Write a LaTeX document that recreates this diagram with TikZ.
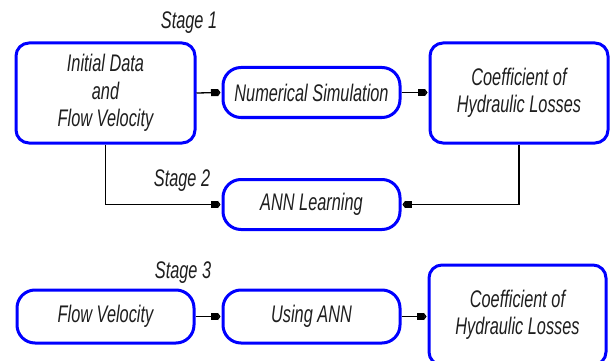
\documentclass[tikz,border=0pt]{standalone}
\usepackage{fontspec}
\setmainfont{Liberation Sans}[FakeStretch=0.68]
\usetikzlibrary{arrows.meta}
\definecolor{boxblue}{RGB}{0,0,255}
\definecolor{txt}{RGB}{30,30,30}
\begin{document}
\begin{tikzpicture}[x=1pt,y=-1pt,
  every node/.style={font=\fontsize{24}{27.5}\selectfont\itshape, text=txt},
  bigbox/.style={draw=boxblue, line width=3pt, rounded corners=13pt, minimum width=179pt, minimum height=100pt, align=center, inner sep=0pt},
  smallbox/.style={draw=boxblue, line width=3pt, rounded corners=18pt, minimum width=177pt, minimum height=50pt, align=center, inner sep=0pt},
  conn/.style={line width=1.3pt, -{Square[length=7pt,width=7pt]Triangle[length=2.5pt,width=7pt]}, shorten >=1pt},
  stagelabel/.style={anchor=base, inner sep=0pt}
]
\useasboundingbox (0,0) rectangle (611,361);
\begin{scope}
\clip (0,0) rectangle (611,361);
\node[bigbox] (init) at (105.5,93) {Initial Data\\and\\Flow Velocity};
\node[smallbox] (num) at (311.5,92.5) {Numerical Simulation};
\node[bigbox, minimum width=178pt] (coef) at (519,93) {Coefficient of\\Hydraulic Losses};
\node[smallbox] (ann) at (311.5,204.5) {ANN Learning};
\node[smallbox, minimum height=53pt] (flow) at (105.5,316.5) {Flow Velocity};
\node[smallbox, minimum height=53pt] (using) at (311.5,316.5) {Using ANN};
\node[bigbox, minimum width=177pt] (coefb) at (517.5,315) {Coefficient of\\Hydraulic Losses};
\end{scope}

\node[stagelabel] (s1) at (189,29) {Stage 1};
\node[stagelabel] (s2) at (182,186) {Stage 2};
\node[stagelabel] (s3) at (183,278) {Stage 3};

\draw[conn] (init.east) -- (num.west);
\draw[conn] (num.east) -- (num.east -| coef.west);
\draw[conn] (init.south) |- (ann.west);
\draw[conn] (coef.south) |- (ann.east);
\draw[conn] (flow.east) -- (using.west);
\draw[conn] (using.east) -- (using.east -| coefb.west);
\end{tikzpicture}
\end{document}
